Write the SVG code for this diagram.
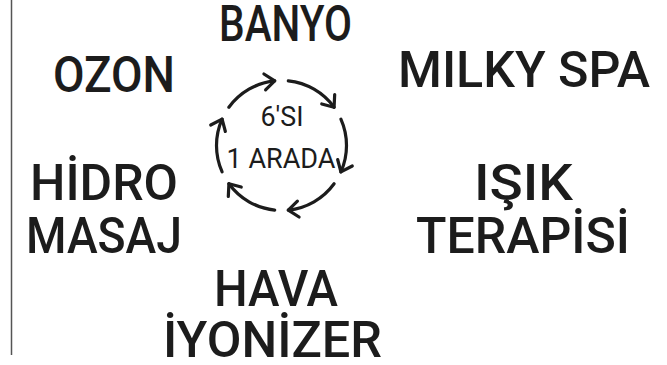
<svg xmlns="http://www.w3.org/2000/svg" width="667" height="365" viewBox="0 0 667 365">
  <style>
    .t { font-family: Roboto, "Liberation Sans", sans-serif; font-size: 50px; font-weight: 500; fill: #1c1c1c; text-anchor: middle; }
    .c { font-family: Roboto, "Liberation Sans", sans-serif; font-size: 27px; font-weight: 400; fill: #1c1c1c; text-anchor: middle; }
    .arc { fill: none; stroke: #1c1c1c; stroke-width: 3.2; stroke-linecap: round; }
  </style>
  <defs>
    <marker id="ah" markerUnits="userSpaceOnUse" markerWidth="30" markerHeight="30" refX="0" refY="0" orient="auto" viewBox="-15 -15 30 30" overflow="visible">
      <path d="M-10,-8 L0,0 L-10,8" fill="none" stroke="#1c1c1c" stroke-width="3.2" stroke-linecap="round" stroke-linejoin="round"/>
    </marker>
  </defs>
  <rect width="667" height="365" fill="#ffffff"/>
  <line x1="11.5" y1="0" x2="11.5" y2="355" stroke="#555555" stroke-width="1.5"/>

  <g id="banyo"><text class="t" x="285.5" y="41" textLength="133" lengthAdjust="spacingAndGlyphs">BANYO</text></g>
  <g id="ozon"><text class="t" x="114" y="92" textLength="122" lengthAdjust="spacingAndGlyphs">OZON</text></g>
  <g id="milky-spa"><text class="t" x="524" y="87" textLength="252" lengthAdjust="spacingAndGlyphs">MILKY SPA</text></g>
  <g id="hidro-masaj">
    <text class="t" x="104" y="200" textLength="148" lengthAdjust="spacingAndGlyphs">HİDRO</text>
    <text class="t" x="104" y="253" textLength="156" lengthAdjust="spacingAndGlyphs">MASAJ</text>
  </g>
  <g id="isik-terapisi">
    <text class="t" x="523.5" y="200" textLength="99" lengthAdjust="spacingAndGlyphs">IŞIK</text>
    <text class="t" x="523" y="253" textLength="214" lengthAdjust="spacingAndGlyphs">TERAPİSİ</text>
  </g>
  <g id="hava-iyonizer">
    <text class="t" x="276" y="306" textLength="124" lengthAdjust="spacingAndGlyphs">HAVA</text>
    <text class="t" x="272.5" y="357" textLength="219" lengthAdjust="spacingAndGlyphs">İYONİZER</text>
  </g>
  <g id="center">
    <text class="c" x="282" y="126" textLength="43" lengthAdjust="spacingAndGlyphs">6'SI</text>
    <text class="c" x="281" y="168" textLength="109" lengthAdjust="spacingAndGlyphs">1 ARADA</text>
  </g>

  <g id="connectors">
    <path class="arc" marker-end="url(#ah)" d="M288.3,80.9 A65,65 0 0 1 334.1,107.3"/>
    <path class="arc" marker-end="url(#ah)" d="M340.9,119.1 A65,65 0 0 1 340.9,171.9"/>
    <path class="arc" marker-end="url(#ah)" d="M334.1,183.7 A65,65 0 0 1 288.3,210.1"/>
    <path class="arc" marker-end="url(#ah)" d="M274.7,210.1 A65,65 0 0 1 228.9,183.7"/>
    <path class="arc" marker-end="url(#ah)" d="M222.1,171.9 A65,65 0 0 1 222.1,119.1"/>
    <path class="arc" marker-end="url(#ah)" d="M228.9,107.3 A65,65 0 0 1 274.7,80.9"/>
  </g>
</svg>
